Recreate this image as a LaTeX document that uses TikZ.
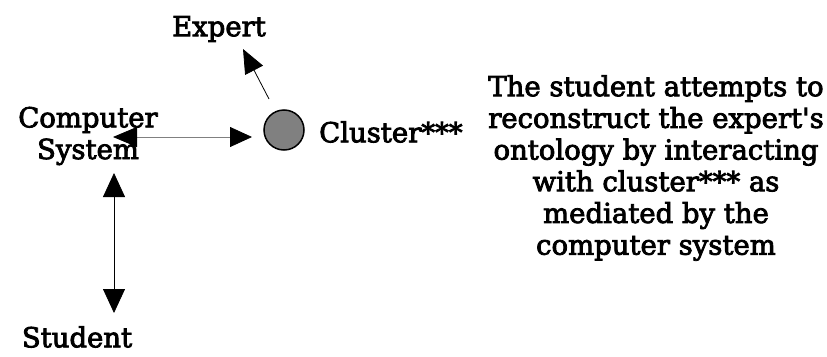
\documentclass[tikz,border=0pt]{standalone}
\usepackage{fontspec}
\setmainfont[AutoFakeBold=3]{DejaVu Serif}
\usetikzlibrary{arrows.meta,calc}
\definecolor{cgray}{HTML}{808080}
\begin{document}
\begin{tikzpicture}[x=1pt,y=-1pt,
  lbl/.style={inner sep=0pt,font=\fontsize{27.5}{31.7}\bfseries\selectfont},
  conn/.style={line width=0.8pt}]
\useasboundingbox (0,0) rectangle (827,356);
\node[lbl] (expert) at (219,29) {Expert};
\node[circle,draw=black,line width=1.5pt,fill=cgray,minimum size=40pt,inner sep=0pt] (circ) at (284,130) {};
\node[lbl,anchor=west] (cluster) at (319,132) {Cluster***};
\node[lbl,align=center] (cs) at (88,136) {Computer\\System};
\node[lbl] (student) at (77,337) {Student};
\node[lbl,align=center] (desc) at (656,168) {The student attempts to\\reconstruct the expert\textquotesingle s\\ontology by interacting\\with cluster*** as\\mediated by the\\computer system};
\coordinate (hl) at (113,137);
\coordinate (hr) at (252,137);
\coordinate (vt) at (114,173);
\coordinate (vb) at (114,313);
\coordinate (es) at (269,99);
\coordinate (et) at (243,49);
\draw[conn,draw=cgray,{Triangle[length=24pt,width=20pt,color=black]}-{Triangle[length=22pt,width=20pt,color=black]}] (hl) -- (hr);
\draw[conn,{Triangle[length=24pt,width=22pt]}-{Triangle[length=24pt,width=22pt]}] (vt) -- (vb);
\draw[conn,-{Triangle[length=24pt,width=20pt]}] (es) -- (et);
\end{tikzpicture}
\end{document}
